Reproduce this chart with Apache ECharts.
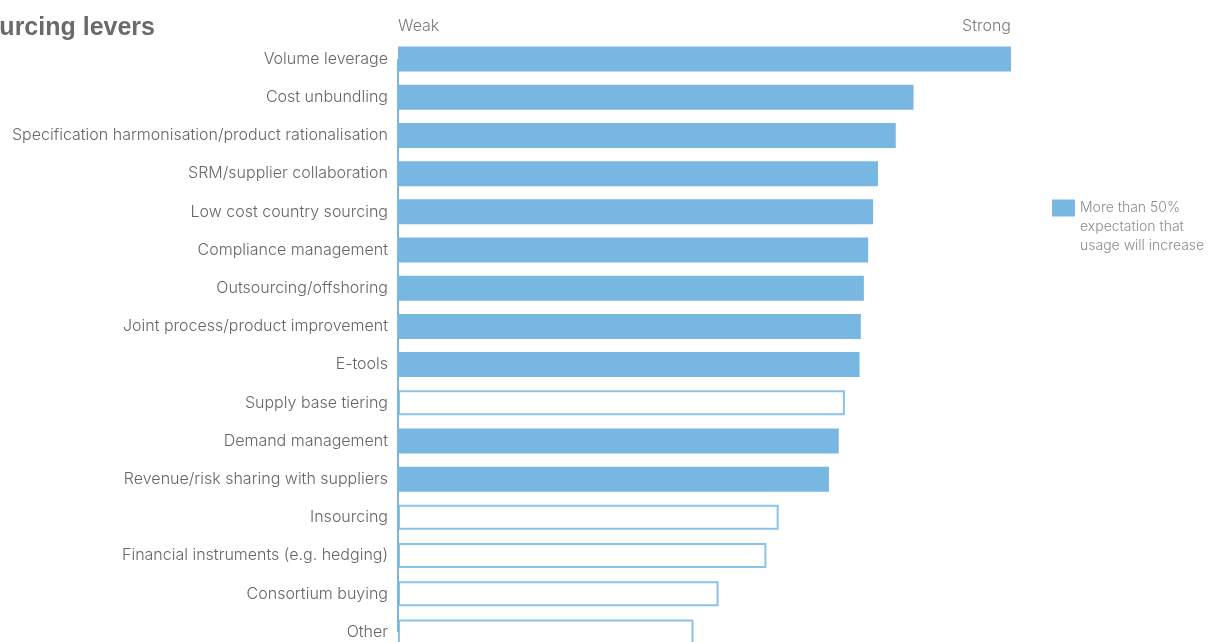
<!DOCTYPE html>
<html>
<head>
<meta charset="utf-8">
<style>
  html, body { margin: 0; padding: 0; background: #fff; }
  #chart { width: 1208px; height: 642px; }
</style>
<script src="https://cdn.jsdelivr.net/npm/echarts@6/dist/echarts.min.js"></script>
</head>
<body>
<div id="chart"></div>
<script>
// Sourcing levers ranked from weak to strong
const levers = [
  'Volume leverage',
  'Cost unbundling',
  'Specification harmonisation/product rationalisation',
  'SRM/supplier collaboration',
  'Low cost country sourcing',
  'Compliance management',
  'Outsourcing/offshoring',
  'Joint process/product improvement',
  'E-tools',
  'Supply base tiering',
  'Demand management',
  'Revenue/risk sharing with suppliers',
  'Insourcing',
  'Financial instruments (e.g. hedging)',
  'Consortium buying',
  'Other'
];
const strength = [100, 84.1, 81.2, 78.3, 77.5, 76.7, 76.0, 75.5, 75.3, 72.9, 71.9, 70.3, 62.1, 60.1, 52.3, 48.2];
// true where more than half expect usage to increase
const expectIncrease = [true, true, true, true, true, true, true, true, true, false, true, true, false, false, false, false];
const scaleLabels = ['Weak', 'Strong'];
const titleText = 'Sourcing levers';
const legendText = 'More than 50% expectation that usage will increase';
const legendLines = ['More than 50%', 'expectation that', 'usage will increase'];

const BLUE = '#79b7e3';
const OUTLINE = '#8ac2ea';
const FONT = 'Inter, Roboto, "Liberation Sans", sans-serif';

const chart = echarts.init(document.getElementById('chart'));

const barData = strength.map((v, i) => expectIncrease[i]
  ? { value: v, itemStyle: { color: BLUE } }
  : { value: v, itemStyle: { color: '#ffffff', borderColor: OUTLINE, borderWidth: 2 } });

chart.setOption({
  animation: false,
  backgroundColor: '#ffffff',
  graphic: [{
    type: 'text',
    style: {
      x: 155, y: 28,
      text: titleText,
      textAlign: 'right',
      textVerticalAlign: 'middle',
      fill: '#6a6a6a',
      font: 'bold 25px "Liberation Sans", Arial, sans-serif'
    }
  }],
  legend: {
    data: [legendText],
    left: 1052,
    top: 198,
    padding: 0,
    itemWidth: 23,
    itemHeight: 57,
    itemGap: 0,
    selectedMode: false,
    // swatch sits beside the first line of the three-line caption
    icon: 'path://M0,3H23V20H0Z M0,57L0.1,57',
    formatter: () => legendLines.join('\n'),
    textStyle: {
      color: '#8c8c8c',
      fontFamily: FONT,
      fontWeight: 300,
      fontSize: 14,
      lineHeight: 19
    }
  },
  grid: { left: 398, width: 613, top: 40, height: 611, containLabel: false, outerBoundsMode: 'none' },
  xAxis: {
    type: 'value',
    position: 'top',
    min: 0,
    max: 100,
    interval: 100,
    axisLine: { show: false },
    axisTick: { show: false },
    splitLine: { show: false },
    axisLabel: {
      margin: 6,
      color: '#7a7a7a',
      fontFamily: FONT,
      fontWeight: 300,
      fontSize: 16,
      alignMinLabel: 'left',
      alignMaxLabel: 'right',
      formatter: v => v === 0 ? scaleLabels[0] : scaleLabels[1]
    }
  },
  yAxis: {
    type: 'category',
    data: levers,
    inverse: true,
    axisLine: { show: false },
    axisTick: { show: false },
    axisLabel: {
      margin: 10,
      color: '#666666',
      fontFamily: FONT,
      fontWeight: 300,
      fontSize: 16
    }
  },
  series: [{
    name: legendText,
    type: 'bar',
    barWidth: 25,
    color: BLUE,
    data: barData,
    markLine: {
      silent: true,
      symbol: 'none',
      label: { show: false },
      lineStyle: { color: BLUE, width: 2, type: 'solid' },
      data: [[{ coord: [0, levers[0]] }, { coord: [0, levers[levers.length - 1]] }]]
    }
  }]
});
</script>
</body>
</html>
